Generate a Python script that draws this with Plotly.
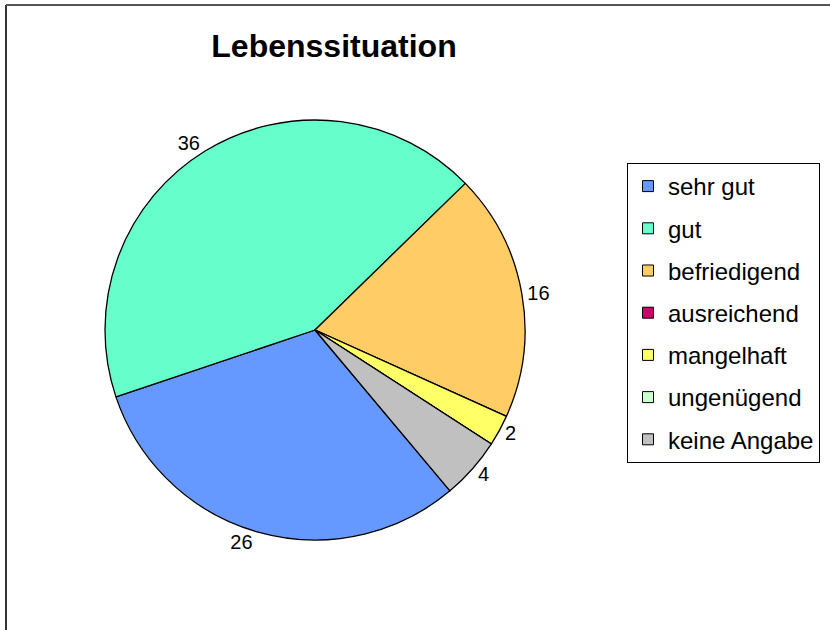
import plotly.graph_objects as go

# Lebenssituation - Verteilung der Antworten
labels = ['sehr gut', 'gut', 'befriedigend', 'ausreichend', 'mangelhaft', 'ungenügend', 'keine Angabe']
values = [26, 36, 16, 0, 2, 0, 4]
colors = ['#6699FF', '#66FFCC', '#FFCC66', '#CC0066', '#FFFF66', '#CCFFCC', '#C0C0C0']

# Beschriftungen nur fuer Werte > 0
slice_text = [str(v) if v > 0 else '' for v in values]

fig = go.Figure()

fig.add_trace(go.Pie(
    labels=labels,
    values=values,
    text=slice_text,
    textinfo='text',
    textposition='outside',
    sort=False,
    direction='clockwise',
    rotation=140,
    marker=dict(colors=colors, line=dict(color='black', width=1.3)),
    textfont=dict(family='Liberation Sans, Arial', size=20, color='black'),
    domain=dict(x=[105 / 830, 525 / 830], y=[1 - 541 / 630, 1 - 119 / 630]),
    showlegend=False,
    hoverinfo='label+value',
))

# Legendeneintraege (einer pro Kategorie, damit der Abstand passt)
for name, col in zip(labels, colors):
    fig.add_trace(go.Scatter(
        x=[None], y=[None], mode='markers', name=name, legendgroup=name,
        marker=dict(symbol='square', size=11, color=col, line=dict(color='black', width=1)),
    ))

fig.update_layout(
    width=830, height=630,
    margin=dict(l=0, r=0, t=0, b=0),
    paper_bgcolor='white',
    plot_bgcolor='white',
    title=dict(text='<b>Lebenssituation</b>', x=334 / 830, xanchor='center',
               y=1 - 46 / 630, yanchor='middle', yref='container',
               font=dict(family='Liberation Sans, Arial', size=32, color='black')),
    xaxis=dict(visible=False),
    yaxis=dict(visible=False),
    legend=dict(x=627 / 830, y=1 - 163 / 630, xanchor='left', yanchor='top',
                bordercolor='black', borderwidth=1, bgcolor='white',
                traceorder='grouped', tracegroupgap=8,
                font=dict(family='Liberation Sans, Arial', size=24, color='black')),
    shapes=[
        dict(type='line', xref='paper', yref='paper', x0=6 / 830, x1=6 / 830, y0=0, y1=1 - 5 / 630,
             line=dict(color='#333333', width=2)),
        dict(type='line', xref='paper', yref='paper', x0=6 / 830, x1=1, y0=1 - 5 / 630, y1=1 - 5 / 630,
             line=dict(color='#555555', width=2)),
    ],
)

fig.write_html('out.html', config={'displayModeBar': False},
               post_script="document.body.style.margin='0';")
